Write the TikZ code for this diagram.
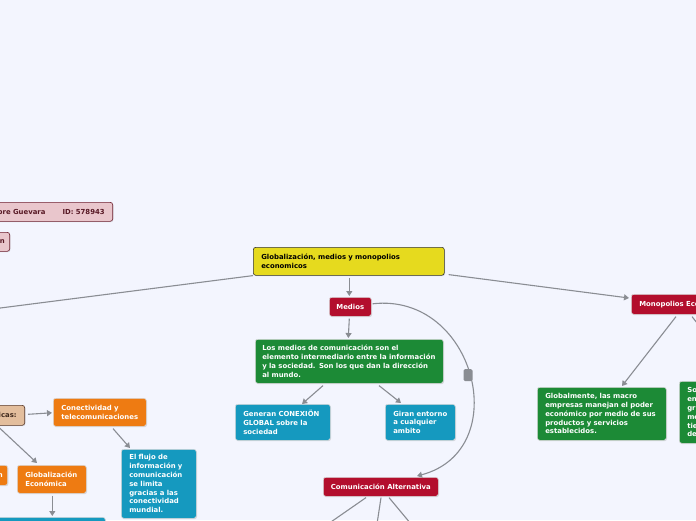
\documentclass[tikz,border=0pt]{standalone}
\usepackage{fontspec}
\setmainfont{DejaVu Sans}
\usetikzlibrary{arrows.meta,shadows,calc}
\definecolor{bg}{HTML}{F3F5FE}
\definecolor{linec}{HTML}{8A8D93}
\definecolor{yel}{HTML}{E6DA1E}
\definecolor{redc}{HTML}{B30E2D}
\definecolor{grn}{HTML}{1C8A36}
\definecolor{blu}{HTML}{1599BF}
\definecolor{org}{HTML}{EE7B12}
\definecolor{pink}{HTML}{E9C6CC}
\definecolor{pinkb}{HTML}{6E1F2F}
\definecolor{tan}{HTML}{E3BE9D}
\definecolor{tanb}{HTML}{5A3A2A}
\begin{document}
\begin{tikzpicture}[x=1pt,y=-1pt,
  font=\bfseries\fontsize{6.9}{8.8}\selectfont,
  card/.style={rectangle, rounded corners=2.5pt, anchor=north west, align=left,
    inner xsep=8pt, inner ysep=2pt, text=white, draw=white!85!black, line width=0.6pt,
    drop shadow={shadow xshift=0.7pt, shadow yshift=-0.9pt, opacity=0.25}},
  link/.style={draw=linec, line width=1.1pt},
  arr/.style={link, -{Triangle[length=5pt,width=6pt]}}]
\useasboundingbox (0,0) rectangle (696,520);
\fill[bg] (0,0) rectangle (696,520);
\clip (0,0) rectangle (696,520);

% nodes
\node[card, fill=pink, draw=pinkb, text=pinkb!80!black, anchor=north east, align=right,
  text width=130pt, minimum height=19pt] (pinkA) at (113,202) {bre Guevara\hspace{17pt}ID: 578943};
\node[card, fill=pink, draw=pinkb, text=pinkb!80!black, anchor=north east, align=right,
  text width=40pt, minimum height=19pt, inner xsep=5pt] (pinkB) at (10,232) {n};

\node[card, fill=yel, draw=black!80, text=black, text width=175pt, minimum height=28pt] (root) at (253,247)
  {Globalización, medios y monopolios\\economicos};

\node[card, fill=redc, minimum width=42pt, minimum height=19pt, align=center, inner xsep=6pt] (medios) at (329,297) {Medios};
\node[card, fill=grn, text width=174pt, minimum height=44pt, inner xsep=7pt] (green1) at (255,339)
  {Los medios de comunicación son el\\elemento intermediario entre la información\\y la sociedad. Son los que dan la dirección\\al mundo.};
\node[card, fill=blu, text width=79pt, minimum height=36pt] (generan) at (235,404)
  {Generan CONEXIÖN\\GLOBAL sobre la\\sociedad};
\node[card, fill=blu, text width=54pt, minimum height=36pt] (giran) at (385,404)
  {Giran entorno\\a cualquier\\ambito};
\node[card, fill=redc, minimum width=115pt, minimum height=19pt, align=center, inner xsep=5pt] (comalt) at (323,477)
  {Comunicación Alternativa};
\node[fill=linec, rounded corners=1.5pt, minimum width=9pt, minimum height=12pt, inner sep=0pt] (handle) at (468,375) {};

\node[card, fill=redc, anchor=north west, minimum height=20pt, text width=110pt] (mono) at (631,294) {Monopolios Económicos};
\node[card, fill=grn, text width=113pt, minimum height=53pt] (globalmente) at (537,387)
  {Globalmente, las macro\\empresas manejan el poder\\económico por medio de sus\\productos y servicios\\establecidos.};
\node[card, fill=grn, text width=60pt, minimum height=62pt] (rgreen) at (679,381)
  {So\\en\\gr\\me\\tie\\de};

\node[card, fill=tan, draw=tanb, text=tanb!70!black, anchor=north east, align=right,
  text width=40pt, minimum height=20pt] (tanA) at (25,405) {icas:};
\node[card, fill=org, text width=77pt, minimum height=28pt] (conect) at (53,398)
  {Conectividad y\\telecomunicaciones};
\node[card, fill=blu, text width=59pt, minimum height=69pt] (flujo) at (121,449)
  {El flujo de\\información y\\comunicación\\se limita\\gracias a las\\conectividad\\mundial.};
\node[card, fill=org, anchor=north east, align=right, text width=40pt, minimum height=20pt, inner xsep=5pt] (orgB) at (8,465) {n};
\node[card, fill=org, text width=53pt, minimum height=28pt] (globecon) at (17,465)
  {Globalización\\Económica};
\node[card, fill=blu, minimum width=115pt, minimum height=30pt] (botblue) at (-10,517) {};

% free ends
\coordinate (leftend) at (-20,310.6);
\coordinate (ca1) at (328,524);
\coordinate (ca2) at (377,524);
\coordinate (ca3) at (411,524);
\coordinate (mono2) at (701,328);

% connectors
\draw[link] (root.south west) -- (leftend);
\draw[arr] ($(root.south east)+(4,-1)$) -- ($(mono.north west)+(-2,4)$);
\draw[arr] ($(root.south)+(0.5,2)$) -- ($(medios.north)+(-1,-1)$);
\draw[arr] ($(medios.south)+(-1,2)$) -- ($(green1.north)+(-1,-1)$);
\draw[arr] ($(green1.south west)+(68,2)$) -- ($(generan.north west)+(67,0)$);
\draw[arr] ($(green1.south west)+(124,2)$) -- ($(giran.north west)+(16,-1)$);
\draw[arr] ($(medios.east)+(1,-3)$) .. controls (475,292) and (515,450) .. ($(comalt.north west)+(94,-1)$);
\draw[link] ($(comalt.south west)+(43,1)$) -- (ca1);
\draw[link] ($(comalt.south west)+(58,1)$) -- (ca2);
\draw[link] ($(comalt.south west)+(66,1)$) -- (ca3);
\draw[arr] ($(mono.south west)+(45,2)$) -- ($(globalmente.north west)+(85,-1)$);
\draw[link] ($(mono.south west)+(61,2)$) -- (mono2);
\draw[arr] ($(tanA.east)+(3,-1)$) -- ($(conect.west)+(-1,0.5)$);
\draw[arr] ($(tanA.south east)+(-28,0)$) -- ($(globecon.north west)+(20,-2)$);
\draw[arr] ($(conect.south west)+(60,2)$) -- ($(flujo.north west)+(9,-1)$);
\draw[arr] ($(globecon.south)+(0.5,2)$) -- ($(globecon.south |- botblue.north)+(0.5,-1)$);
\end{tikzpicture}
\end{document}
